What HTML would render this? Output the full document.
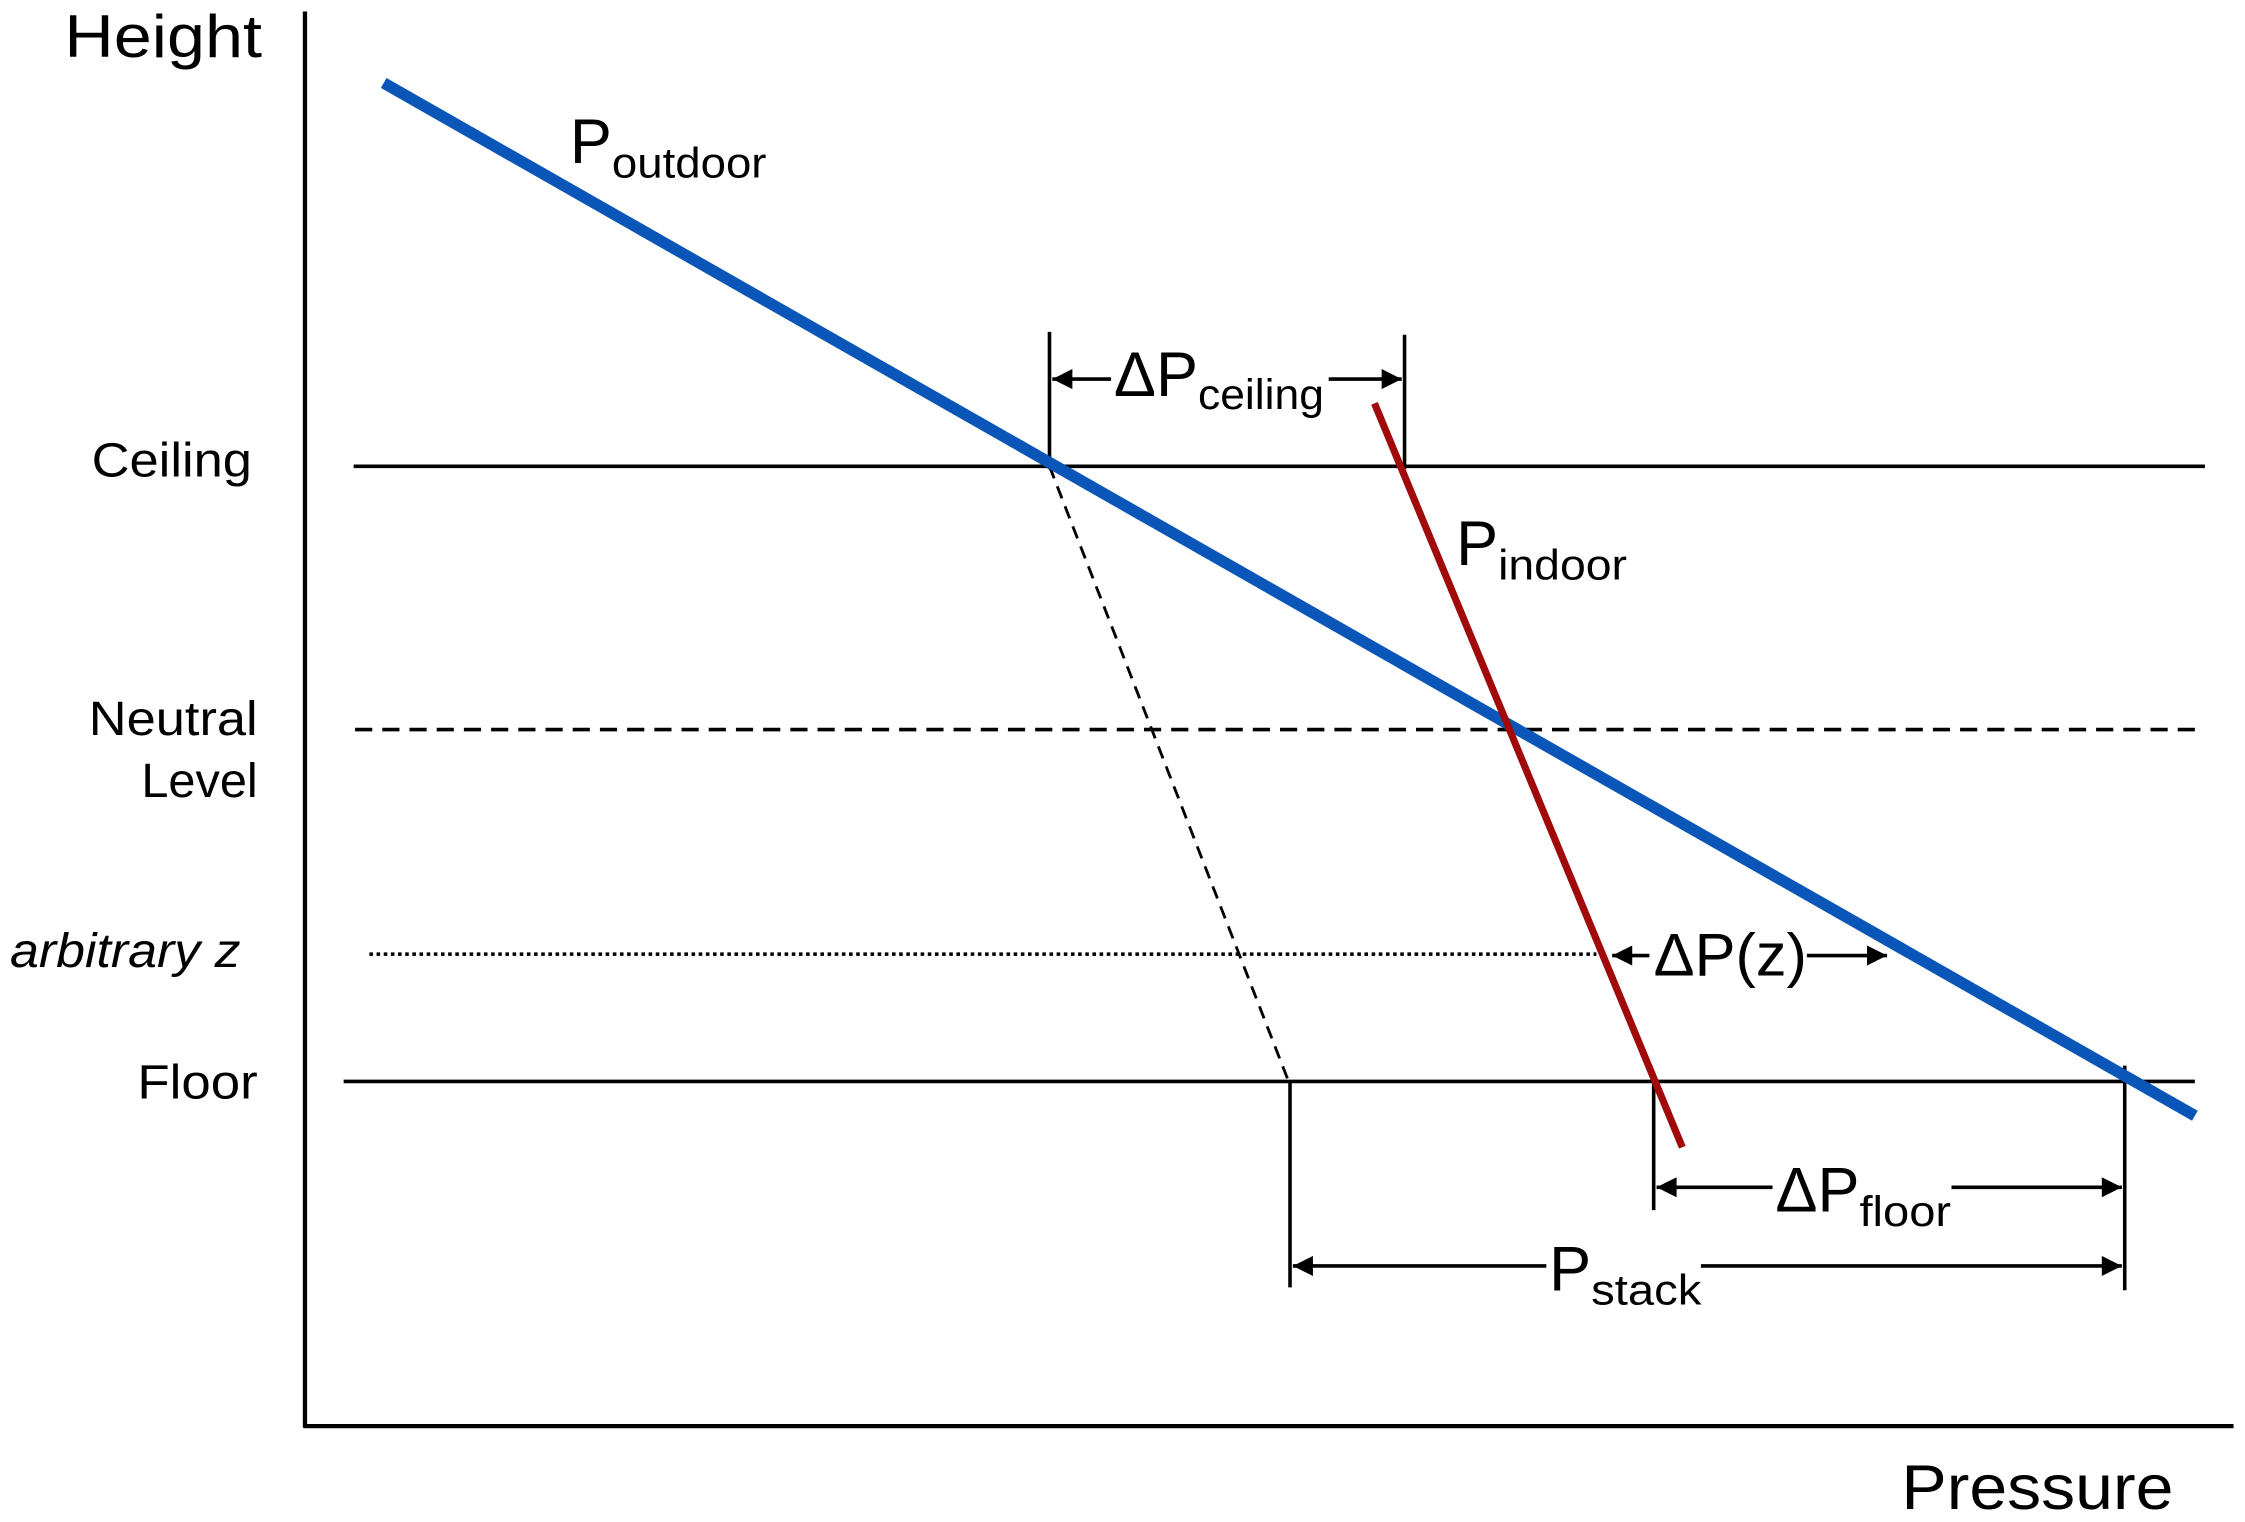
<!DOCTYPE html>
<html><head><meta charset="utf-8"><style>html,body{margin:0;padding:0;background:#fff}svg{display:block}</style></head>
<body>
<svg width="2245" height="1522" viewBox="0 0 1568 1064" preserveAspectRatio="none" xmlns="http://www.w3.org/2000/svg" font-family="Liberation Sans, Arial, sans-serif">
<defs>
<marker id="b" viewBox="0 0 10 10" refX="10" refY="5" markerWidth="18" markerHeight="14" orient="auto-start-reverse" markerUnits="userSpaceOnUse"><path d="M0,0 L10,5 L0,10 z" fill="#000"/></marker>
</defs>
<rect width="1568" height="1064" fill="#fff"/>
<line x1="213" y1="8" x2="213" y2="998" stroke="#000" stroke-width="3"/>
<line x1="212" y1="997" x2="1560" y2="997" stroke="#000" stroke-width="3"/>
<line x1="247" y1="326" x2="1540" y2="326" stroke="#000" stroke-width="2.5"/>
<line x1="248" y1="510" x2="1540" y2="510" stroke="#000" stroke-width="2.5" stroke-dasharray="12,7"/>
<line x1="258" y1="667" x2="1115" y2="667" stroke="#000" stroke-width="2.5" stroke-dasharray="2.5,2.5"/>
<line x1="240" y1="756" x2="1533" y2="756" stroke="#000" stroke-width="2.5"/>
<line x1="733" y1="326" x2="900" y2="756" stroke="#000" stroke-width="2" stroke-dasharray="9,6"/>
<line x1="733" y1="232" x2="733" y2="328" stroke="#000" stroke-width="2.5"/>
<line x1="981" y1="234" x2="981" y2="328" stroke="#000" stroke-width="2.5"/>
<line x1="1155" y1="756" x2="1155" y2="846" stroke="#000" stroke-width="2.5"/>
<line x1="1484" y1="745" x2="1484" y2="902" stroke="#000" stroke-width="2.5"/>
<line x1="901" y1="756" x2="901" y2="900" stroke="#000" stroke-width="2.5"/>
<line x1="268" y1="58" x2="1533" y2="780" stroke="#0a56b8" stroke-width="8"/>
<line x1="960" y1="282" x2="1175" y2="802" stroke="#a00a0a" stroke-width="5"/>
<line x1="735" y1="265" x2="979" y2="265" stroke="#000" stroke-width="2.5" marker-start="url(#b)" marker-end="url(#b)"/>
<line x1="1126" y1="668" x2="1318" y2="668" stroke="#000" stroke-width="2.5" marker-start="url(#b)" marker-end="url(#b)"/>
<line x1="1157" y1="830" x2="1482" y2="830" stroke="#000" stroke-width="2.5" marker-start="url(#b)" marker-end="url(#b)"/>
<line x1="903" y1="885" x2="1482" y2="885" stroke="#000" stroke-width="2.5" marker-start="url(#b)" marker-end="url(#b)"/>
<rect x="776" y="240" width="152" height="50" fill="#fff"/>
<rect x="1152" y="648" width="110" height="42" fill="#fff"/>
<rect x="1238" y="808" width="125" height="52" fill="#fff"/>
<rect x="1080" y="862" width="108" height="52" fill="#fff"/>
<text x="45" y="40" font-size="42" textLength="138" lengthAdjust="spacingAndGlyphs">Height</text>
<text x="64" y="333" font-size="34" textLength="112" lengthAdjust="spacingAndGlyphs">Ceiling</text>
<text x="62" y="514" font-size="34" textLength="118" lengthAdjust="spacingAndGlyphs">Neutral</text>
<text x="180" y="557" font-size="34" text-anchor="end">Level</text>
<text x="7" y="676" font-size="34" font-style="italic" textLength="161" lengthAdjust="spacingAndGlyphs">arbitrary z</text>
<text x="96" y="768" font-size="34" textLength="84" lengthAdjust="spacingAndGlyphs">Floor</text>
<text x="1328" y="1055" font-size="44" textLength="190" lengthAdjust="spacingAndGlyphs">Pressure</text>
<text x="398" y="114" font-size="44">P<tspan font-size="30" dy="10" textLength="108" lengthAdjust="spacingAndGlyphs">outdoor</tspan></text>
<text x="1017" y="395" font-size="44">P<tspan font-size="30" dy="10" textLength="90" lengthAdjust="spacingAndGlyphs">indoor</tspan></text>
<text x="778" y="277" font-size="44">ΔP<tspan font-size="30" dy="9" textLength="88" lengthAdjust="spacingAndGlyphs">ceiling</tspan></text>
<text x="1155" y="682" font-size="42" textLength="107" lengthAdjust="spacingAndGlyphs">ΔP(z)</text>
<text x="1240" y="847" font-size="44">ΔP<tspan font-size="30" dy="10" textLength="64" lengthAdjust="spacingAndGlyphs">floor</tspan></text>
<text x="1082" y="902" font-size="44">P<tspan font-size="30" dy="10" textLength="77" lengthAdjust="spacingAndGlyphs">stack</tspan></text>
</svg>
</body></html>
